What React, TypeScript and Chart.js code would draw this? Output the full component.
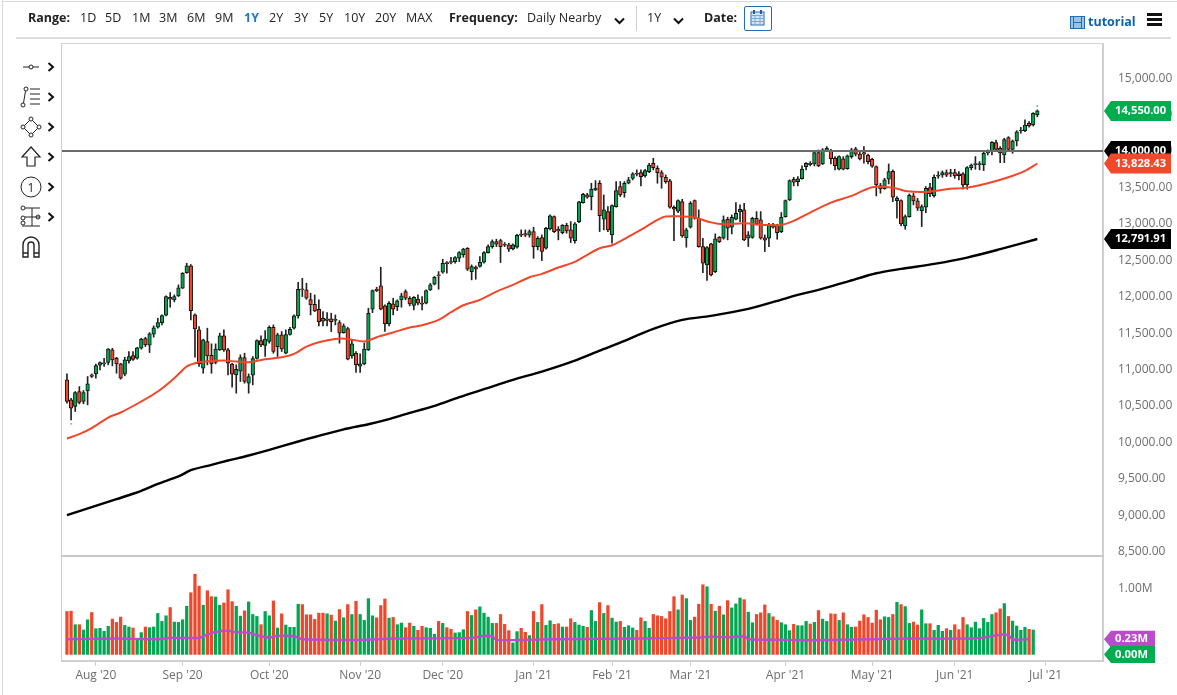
import { useEffect, useRef } from 'react';
import { Chart, registerables } from 'chart.js';

Chart.register(...registerables);

const opens = [
  10859, 10585, 10493, 10699, 10562, 10708, 10927, 10941, 11060, 11078,
  11097, 11270, 11156, 11078, 10937, 11120, 11193, 11156, 11293, 11426,
  11334, 11485, 11581, 11645, 11746, 11993, 11956, 12011, 12116, 12331,
  12423, 11750, 11545, 11019, 11385, 11197, 11097, 11270, 11462, 11270,
  11074, 10927, 10978, 11165, 10813, 10923, 11152, 11398, 11330, 11385,
  11581, 11316, 11476, 11225, 11481, 11568, 11737, 12107, 12093, 11961,
  11897, 11828, 11705, 11673, 11696, 11673, 11645, 11508, 11563, 11188,
  11225, 11046, 11078, 11270, 11828, 12102, 12148, 11874, 11627, 11902,
  11865, 11957, 12071, 11979, 11879, 11966, 11911, 11911, 12094, 12172,
  12300, 12336, 12469, 12482, 12482, 12528, 12578, 12665, 12345, 12405,
  12414, 12473, 12606, 12688, 12757, 12770, 12720, 12711, 12656, 12679,
  12857, 12866, 12844, 12894, 12688, 12812, 12665, 12930, 13100, 12926,
  12880, 12981, 12917, 12770, 13031, 13292, 13397, 13374, 13465, 13557,
  13063, 13168, 12848, 13237, 13511, 13429, 13557, 13625, 13694, 13703,
  13657, 13717, 13831, 13763, 13703, 13639, 13589, 13228, 13173, 13305,
  12807, 12953, 13319, 13077, 12688, 12437, 12725, 12345, 12816, 12802,
  13063, 12953, 13063, 13164, 13191, 12802, 12812, 13077, 13054, 12807,
  12802, 12985, 12981, 12894, 13100, 13328, 13612, 13580, 13621, 13785,
  13831, 13822, 13977, 13822, 14005, 14000, 13900, 13749, 13891, 13758,
  13923, 14028, 13959, 13977, 13945, 13886, 13785, 13525, 13484, 13612,
  13721, 13319, 13319, 12972, 13100, 13383, 13315, 13182, 13228, 13497,
  13383, 13653, 13671, 13703, 13685, 13703, 13685, 13685, 13534, 13772,
  13813, 13813, 13813, 13977, 13991, 14115, 14037, 13945, 14183, 14023,
  14137, 14275, 14279, 14380, 14357, 14499,
];
const highs = [
  10941, 10607, 10699, 10767, 10713, 10905, 10941, 11074, 11106, 11156,
  11289, 11293, 11170, 11087, 11170, 11248, 11248, 11307, 11430, 11444,
  11508, 11600, 11705, 11750, 12011, 12057, 12025, 12162, 12331, 12459,
  12441, 11764, 11590, 11417, 11568, 11353, 11353, 11499, 11545, 11293,
  11087, 11065, 11202, 11225, 10941, 11179, 11408, 11462, 11536, 11600,
  11613, 11499, 11522, 11545, 11581, 11750, 12198, 12253, 12185, 12048,
  12025, 11956, 11796, 11782, 11773, 11750, 11673, 11627, 11581, 11408,
  11248, 11216, 11362, 11842, 12093, 12130, 12404, 11888, 11933, 11979,
  11957, 12048, 12094, 12002, 12002, 12025, 12002, 12094, 12185, 12277,
  12345, 12514, 12482, 12542, 12551, 12620, 12665, 12674, 12437, 12423,
  12551, 12620, 12711, 12780, 12789, 12789, 12743, 12734, 12725, 12857,
  12917, 12917, 12917, 12953, 12825, 12848, 12953, 13122, 13109, 12962,
  12990, 13008, 13031, 13017, 13310, 13420, 13420, 13557, 13593, 13593,
  13397, 13237, 13260, 13580, 13580, 13580, 13639, 13703, 13740, 13740,
  13749, 13831, 13900, 13795, 13730, 13671, 13612, 13246, 13328, 13337,
  12940, 13305, 13328, 13191, 12802, 12688, 12734, 12862, 12825, 13109,
  13091, 13122, 13292, 13260, 13282, 12894, 13091, 13168, 13168, 12848,
  13008, 13008, 12994, 13155, 13328, 13603, 13639, 13648, 13795, 13840,
  13854, 13991, 14014, 14032, 14060, 14023, 13923, 13932, 13923, 13945,
  14037, 14051, 14000, 14060, 13959, 13900, 13795, 13557, 13625, 13822,
  13740, 13374, 13328, 13122, 13411, 13420, 13351, 13260, 13511, 13557,
  13671, 13717, 13726, 13740, 13749, 13749, 13717, 13703, 13785, 13822,
  13923, 13854, 13991, 14014, 14128, 14151, 14060, 14174, 14197, 14151,
  14279, 14325, 14426, 14403, 14526, 14563,
];
const lows = [
  10539, 10310, 10425, 10530, 10530, 10516, 10891, 10882, 10996, 11042,
  11065, 11051, 10950, 10868, 10914, 11087, 11124, 11142, 11280, 11316,
  11234, 11444, 11568, 11613, 11737, 11856, 11929, 12002, 12112, 12322,
  11682, 11170, 11042, 10950, 11065, 10950, 11078, 11261, 11248, 10927,
  10758, 10676, 10836, 10813, 10676, 10790, 11142, 11316, 11179, 11362,
  11225, 11179, 11248, 11216, 11472, 11554, 11705, 12002, 11965, 11750,
  11796, 11600, 11600, 11600, 11522, 11613, 11362, 11499, 11133, 11156,
  10960, 10960, 11065, 11261, 11782, 12070, 11819, 11522, 11600, 11751,
  11810, 11856, 11957, 11874, 11819, 11888, 11819, 11902, 12085, 12162,
  12103, 12322, 12322, 12450, 12459, 12482, 12542, 12359, 12231, 12240,
  12405, 12459, 12597, 12665, 12688, 12469, 12688, 12620, 12642, 12665,
  12825, 12825, 12816, 12528, 12642, 12496, 12652, 12917, 12880, 12780,
  12862, 12871, 12743, 12734, 13017, 13282, 13351, 13191, 13456, 12894,
  12917, 12894, 12734, 13228, 13374, 13365, 13548, 13603, 13657, 13520,
  13639, 13703, 13740, 13557, 13488, 13557, 13214, 12770, 13154, 12816,
  12679, 12940, 13063, 12679, 12331, 12222, 12286, 12331, 12743, 12789,
  12780, 12862, 13054, 13031, 12770, 12688, 12802, 12985, 12789, 12620,
  12688, 12940, 12789, 12880, 13091, 13319, 13520, 13520, 13612, 13740,
  13795, 13795, 13785, 13813, 13991, 13822, 13740, 13740, 13740, 13749,
  13900, 13932, 13877, 13831, 13822, 13776, 13383, 13420, 13475, 13548,
  13305, 13077, 12972, 12926, 13091, 13260, 13182, 12963, 13155, 13374,
  13365, 13625, 13639, 13648, 13648, 13625, 13603, 13475, 13475, 13740,
  13749, 13740, 13731, 13945, 13945, 14005, 13840, 13840, 14014, 13968,
  14069, 14243, 14265, 14325, 14343, 14471,
];
const closes = [
  10562, 10470, 10685, 10548, 10685, 10804, 10905, 11055, 11097, 11092,
  11280, 11133, 11078, 10882, 11133, 11179, 11138, 11298, 11417, 11339,
  11490, 11572, 11645, 11741, 12002, 11965, 12002, 12121, 12322, 12423,
  11810, 11558, 11078, 11408, 11188, 11078, 11280, 11462, 11270, 11087,
  10937, 11005, 11165, 10836, 10905, 11152, 11398, 11339, 11417, 11581,
  11248, 11476, 11284, 11481, 11554, 11737, 12103, 12093, 11979, 11888,
  11805, 11659, 11664, 11696, 11659, 11691, 11499, 11600, 11142, 11353,
  11065, 11078, 11280, 11773, 12084, 12084, 11828, 11627, 11910, 11829,
  11943, 12011, 11979, 11902, 11993, 11911, 11897, 12085, 12162, 12267,
  12286, 12459, 12455, 12469, 12537, 12606, 12652, 12377, 12414, 12377,
  12473, 12606, 12688, 12757, 12720, 12688, 12706, 12652, 12711, 12844,
  12844, 12844, 12894, 12688, 12802, 12620, 12940, 13109, 12894, 12903,
  12981, 12903, 12802, 12999, 13301, 13406, 13365, 13474, 13488, 13113,
  13191, 12917, 13250, 13456, 13397, 13557, 13603, 13685, 13680, 13648,
  13730, 13808, 13772, 13703, 13639, 13580, 13228, 13200, 13319, 12834,
  12917, 13282, 13077, 12688, 12459, 12674, 12300, 12793, 12757, 13054,
  12940, 13091, 13145, 13200, 12780, 12848, 13077, 12999, 12802, 12775,
  12985, 12953, 12880, 13091, 13319, 13593, 13571, 13616, 13753, 13831,
  13813, 13977, 13795, 14014, 14037, 13895, 13799, 13923, 13749, 13932,
  14014, 13955, 13891, 13955, 13854, 13790, 13534, 13479, 13603, 13717,
  13365, 13351, 12999, 13100, 13392, 13315, 13214, 13237, 13488, 13411,
  13639, 13667, 13703, 13667, 13703, 13657, 13662, 13534, 13772, 13808,
  13827, 13827, 13968, 13991, 14119, 14023, 13973, 14156, 14023, 14137,
  14261, 14288, 14357, 14343, 14517, 14550,
];

// volume in millions, the last session has no bar yet
const volumes = [
  0.65, 0.655, 0.45, 0.45, 0.37, 0.525, 0.635, 0.39, 0.395, 0.35,
  0.425, 0.535, 0.485, 0.565, 0.44, 0.415, 0.4, 0.24, 0.33, 0.415,
  0.405, 0.415, 0.62, 0.5, 0.585, 0.71, 0.49, 0.485, 0.525, 0.73,
  0.935, 1.215, 1.035, 0.745, 0.965, 0.875, 0.87, 0.745, 0.78, 0.98,
  0.8, 0.73, 0.58, 0.66, 0.795, 0.605, 0.575, 0.45, 0.65, 0.585,
  0.81, 0.4, 0.615, 0.445, 0.41, 0.41, 0.76, 0.755, 0.6, 0.6,
  0.53, 0.625, 0.625, 0.615, 0.595, 0.505, 0.68, 0.555, 0.755, 0.605,
  0.805, 0.605, 0.515, 0.845, 0.585, 0.555, 0.74, 0.84, 0.55, 0.56,
  0.45, 0.475, 0.405, 0.475, 0.425, 0.365, 0.425, 0.405, 0.395, 0.305,
  0.5, 0.47, 0.405, 0.38, 0.325, 0.33, 0.375, 0.65, 0.59, 0.675,
  0.72, 0.625, 0.565, 0.47, 0.47, 0.605, 0.455, 0.36, 0.175, 0.345,
  0.395, 0.335, 0.285, 0.65, 0.485, 0.755, 0.44, 0.51, 0.455, 0.465,
  0.415, 0.415, 0.54, 0.485, 0.445, 0.425, 0.41, 0.665, 0.5, 0.785,
  0.62, 0.74, 0.55, 0.49, 0.5, 0.41, 0.435, 0.4, 0.365, 0.555,
  0.5, 0.395, 0.605, 0.585, 0.575, 0.54, 0.65, 0.875, 0.675, 0.9,
  0.845, 0.515, 0.565, 0.76, 1.055, 1.025, 0.76, 0.655, 0.73, 0.6,
  0.815, 0.705, 0.765, 0.855, 0.83, 0.64, 0.48, 0.605, 0.63, 0.75,
  0.62, 0.57, 0.515, 0.48, 0.45, 0.36, 0.455, 0.435, 0.435, 0.5,
  0.46, 0.485, 0.665, 0.535, 0.5, 0.615, 0.61, 0.515, 0.63, 0.45,
  0.41, 0.415, 0.505, 0.6, 0.56, 0.475, 0.67, 0.525, 0.57, 0.56,
  0.605, 0.79, 0.755, 0.725, 0.47, 0.49, 0.445, 0.675, 0.465, 0.465,
  0.365, 0.44, 0.35, 0.39, 0.365, 0.45, 0.375, 0.56, 0.45, 0.405,
  0.49, 0.39, 0.545, 0.485, 0.605, 0.63, 0.69, 0.77, 0.575, 0.505,
  0.43, 0.365, 0.41, 0.38, 0.37,
];

// moving averages at these sessions
const ma50Sessions = [
  0, 3, 6, 10, 13, 18, 22, 26, 29, 31, 33, 38, 41, 44, 48, 52, 55, 58, 61, 65, 68, 72, 75,
  79, 83, 86, 90, 93, 96, 100, 104, 108, 112, 115, 119, 123, 126, 129, 132, 136, 140, 143, 145, 148, 152,
  156, 159, 164, 169, 173, 176, 180, 185, 190, 195, 200, 203, 208, 213, 218, 223, 228, 232, 235,
];
const ma50Values = [
  10054, 10114, 10196, 10342, 10411, 10562, 10699, 10882, 11042, 11087, 11106, 11124, 11110, 11101, 11142, 11170, 11215, 11316, 11376, 11421, 11421, 11385, 11444,
  11509, 11577, 11609, 11682, 11787, 11883, 11957, 12071, 12162, 12267, 12313, 12400, 12478, 12574, 12665, 12706, 12825, 12953, 13054, 13100, 13104, 13086,
  13020, 12994, 13008, 12985, 12985, 13040, 13155, 13292, 13383, 13502, 13497, 13452, 13438, 13475, 13497, 13557, 13639, 13726, 13828,
];
const ma200Sessions = [
  0, 6, 12, 18, 22, 27, 30, 35, 39, 44, 49, 56, 60, 67, 73, 78, 82, 89, 95, 101, 108, 115, 123, 129, 134,
  142, 149, 156, 165, 172, 177, 182, 189, 196, 202, 210, 218, 226, 235,
];
const ma200Values = [
  9002, 9112, 9222, 9336, 9432, 9533, 9619, 9693, 9752, 9821, 9898, 10013, 10075, 10180, 10250, 10320, 10388, 10502, 10621, 10731, 10859, 10973, 11124, 11261, 11371,
  11558, 11682, 11737, 11833, 11942, 12025, 12094, 12208, 12322, 12382, 12450, 12537, 12652, 12792,
];
const volMaSessions = [
  0, 12, 22, 25, 32, 34, 36, 39, 41, 44, 46, 49, 51, 55, 57, 71, 79, 98, 101, 103, 104, 111, 119,
  138, 153, 156, 160, 164, 165, 174, 181, 195, 205, 219, 223, 226, 228, 229, 233,
];
const volMaValues = [
  0.23, 0.24, 0.23, 0.25, 0.25, 0.3, 0.34, 0.36, 0.335, 0.33, 0.29, 0.255, 0.28, 0.275, 0.23, 0.22, 0.24, 0.25, 0.28, 0.275, 0.22, 0.22, 0.23,
  0.24, 0.255, 0.27, 0.26, 0.275, 0.23, 0.22, 0.215, 0.23, 0.24, 0.24, 0.265, 0.3, 0.29, 0.225, 0.23,
];

// the small high and low flags above and below the extreme sessions
const flagSessions = [1, 235];
const flagValues = [10255, 14617];

const levelLine = 14000;
const priceTicks = [8500, 9000, 9500, 10000, 10500, 11000, 11500, 12000, 12500, 13000, 13500, 14000, 14500, 15000];
const monthSessions = [7, 28, 49, 71, 91, 113, 132, 151, 174, 195, 215, 237];
const monthLabels = ["Aug '20", "Sep '20", "Oct '20", "Nov '20", "Dec '20", "Jan '21", "Feb '21", "Mar '21", "Apr '21", "May '21", "Jun '21", "Jul '21"];
const rangeOptions = ['1D', '5D', '1M', '3M', '6M', '9M', '1Y', '2Y', '3Y', '5Y', '10Y', '20Y', 'MAX'];
const rangeLefts = [80, 105, 132, 159, 187, 215, 244, 269, 294, 319, 344, 375, 406];

const priceBadgeValues = [14550, 14000, 13828.43, 12791.91];
const priceBadgeTexts = ['14,550.00', '14,000.00', '13,828.43', '12,791.91'];
const priceBadgeColors = ['#00AD4E', '#000000', '#F2492B', '#000000'];
const volumeBadgeValues = [0.23, 0];
const volumeBadgeTexts = ['0.23M', '0.00M'];
const volumeBadgeColors = ['#B94CC9', '#00AD4E'];

const GREEN = '#00A651';
const RED = '#F2462A';
const AXIS_GREY = '#CFCFCF';
const TEXT_GREY = '#6E6E6E';
const FONT = '"Open Sans", "Noto Sans", sans-serif';
const X_MIN = -1.2;
const X_MAX = 250.9;

const isUp = (i: number) => closes[i] >= opens[i];
const pairs = (xs: number[], ys: number[]) => xs.map((x, i) => ({ x, y: ys[i] }));

function badgePlugin(id: string, axis: string, values: number[], texts: string[], colors: string[], w: number, h: number) {
  return {
    id,
    afterDraw(chart: any) {
      const { ctx, chartArea } = chart;
      const scale = chart.scales[axis];
      const left = chartArea.right + 1;
      values.forEach((v, i) => {
        const y = scale.getPixelForValue(v);
        ctx.save();
        ctx.fillStyle = colors[i];
        ctx.beginPath();
        ctx.moveTo(left, y);
        ctx.lineTo(left + 7, y - h / 2);
        ctx.lineTo(left + w, y - h / 2);
        ctx.lineTo(left + w, y + h / 2);
        ctx.lineTo(left + 7, y + h / 2);
        ctx.closePath();
        ctx.fill();
        ctx.fillStyle = '#FFFFFF';
        ctx.font = `bold 11.2px ${FONT}`;
        ctx.textBaseline = 'middle';
        ctx.fillText(texts[i], left + 11, y);
        ctx.restore();
      });
    },
  };
}

function sharedX(display: boolean) {
  return {
    type: 'linear' as const,
    min: X_MIN,
    max: X_MAX,
    offset: false,
    display,
    afterBuildTicks: (axis: any) => {
      axis.ticks = monthSessions.map((value) => ({ value }));
    },
    afterFit: (axis: any) => {
      axis.height = display ? 34 : 0;
      axis.paddingTop = 0;
      axis.paddingBottom = 0;
    },
    grid: { offset: false, drawOnChartArea: false, color: AXIS_GREY, tickLength: 5, tickWidth: 1 },
    border: { color: AXIS_GREY, width: 2 },
    ticks: {
      autoSkip: false,
      maxRotation: 0,
      padding: 2,
      color: TEXT_GREY,
      font: { family: FONT, size: 12 },
      callback: (value: any) => monthLabels[monthSessions.indexOf(value)] ?? '',
    },
  };
}

function sideY(min: number, max: number, ticks: number[], label: (v: number) => string) {
  return {
    position: 'right' as const,
    min,
    max,
    afterBuildTicks: (axis: any) => {
      axis.ticks = ticks.map((value) => ({ value }));
    },
    afterFit: (axis: any) => {
      // tick padding would otherwise shrink the plot height
      axis.width = 74;
      axis.paddingTop = 0;
      axis.paddingBottom = 0;
    },
    grid: { display: false },
    border: { color: AXIS_GREY, width: 2 },
    ticks: {
      autoSkip: false,
      padding: 7,
      color: TEXT_GREY,
      font: { family: FONT, size: 12 },
      callback: (value: any) => label(value),
    },
  };
}

function Chevron({ x, y }: { x: number; y: number }) {
  return (
    <svg style={{ position: 'absolute', left: x, top: y }} width={8} height={10} viewBox="0 0 8 10">
      <path d="M1.5 1 L6 5 L1.5 9" fill="none" stroke="#111" strokeWidth={2} />
    </svg>
  );
}

function Down({ x }: { x: number }) {
  return (
    <svg style={{ position: 'absolute', left: x, top: 17 }} width={11} height={8} viewBox="0 0 11 8">
      <path d="M1 1.5 L5.5 6 L10 1.5" fill="none" stroke="#111" strokeWidth={2} />
    </svg>
  );
}

function Tool({ y, children }: { y: number; children: any }) {
  return (
    <svg style={{ position: 'absolute', left: 20, top: y - 12 }} width={22} height={24} viewBox="0 0 22 24" fill="none" stroke="#222" strokeWidth={1}>
      {children}
    </svg>
  );
}

export default function App() {
  const priceRef = useRef<HTMLCanvasElement>(null);
  const volumeRef = useRef<HTMLCanvasElement>(null);

  useEffect(() => {
    if (!priceRef.current || !volumeRef.current) return;
    const sessions = opens.map((_, i) => i);

    const priceChart = new Chart(priceRef.current, {
      type: 'bar',
      data: {
        datasets: [
          {
            label: 'Wicks',
            data: sessions.map((i) => ({ x: i, y: [lows[i], highs[i]] })) as any,
            backgroundColor: '#222222',
            borderWidth: 0,
            barThickness: 1,
            grouped: false,
            order: 5,
          },
          {
            label: 'Bodies',
            data: sessions.map((i) => ({ x: i, y: [opens[i], closes[i]] })) as any,
            backgroundColor: sessions.map((i) => (isUp(i) ? GREEN : RED)),
            borderColor: '#111111',
            borderWidth: 1,
            borderSkipped: false,
            barThickness: 3.6,
            grouped: false,
            order: 4,
          },
          {
            type: 'line',
            label: 'Flags',
            data: pairs(flagSessions, flagValues),
            showLine: false,
            pointRadius: 1,
            pointStyle: 'rect',
            pointBackgroundColor: [RED, GREEN],
            pointBorderWidth: 0,
            order: 3,
          },
          {
            type: 'line',
            label: '50 day',
            data: pairs(ma50Sessions, ma50Values),
            borderColor: RED,
            borderWidth: 2,
            pointRadius: 0,
            tension: 0.3,
            order: 2,
          },
          {
            type: 'line',
            label: '200 day',
            data: pairs(ma200Sessions, ma200Values),
            borderColor: '#000000',
            borderWidth: 2.4,
            pointRadius: 0,
            tension: 0.3,
            order: 2,
          },
          {
            type: 'line',
            label: 'Level',
            data: [
              { x: X_MIN, y: levelLine },
              { x: X_MAX, y: levelLine },
            ],
            borderColor: '#6B6B6B',
            borderWidth: 2,
            pointRadius: 0,
            order: 1,
          },
        ] as any,
      },
      options: {
        responsive: false,
        animation: false,
        events: [],
        layout: { padding: { left: 62, top: 44, right: 0, bottom: 0 } },
        plugins: { legend: { display: false }, tooltip: { enabled: false } },
        scales: {
          x: sharedX(false),
          y: sideY(8428, 15468, priceTicks, (v) => v.toLocaleString('en-US', { minimumFractionDigits: 2 })),
        } as any,
      },
      plugins: [badgePlugin('priceBadges', 'y', priceBadgeValues, priceBadgeTexts, priceBadgeColors, 67, 20)],
    });

    const volumeChart = new Chart(volumeRef.current, {
      type: 'bar',
      data: {
        datasets: [
          {
            label: 'Volume',
            data: volumes.map((v, i) => ({ x: i, y: v })),
            backgroundColor: volumes.map((_, i) => (isUp(i) ? GREEN : RED)),
            borderWidth: 0,
            barThickness: 2.6,
            grouped: false,
            order: 2,
          },
          {
            type: 'line',
            label: 'Volume average',
            data: pairs(volMaSessions, volMaValues),
            borderColor: '#B94CC9',
            borderWidth: 2.4,
            pointRadius: 0,
            tension: 0.2,
            order: 1,
          },
        ] as any,
      },
      options: {
        responsive: false,
        animation: false,
        events: [],
        layout: { padding: { left: 62, top: 0, right: 0, bottom: 0 } },
        plugins: { legend: { display: false }, tooltip: { enabled: false } },
        scales: {
          x: sharedX(true),
          y: sideY(-0.1, 1.476, [1], () => '1.00M'),
        } as any,
      },
      plugins: [badgePlugin('volumeBadges', 'y', volumeBadgeValues, volumeBadgeTexts, volumeBadgeColors, 51, 17)],
    });

    return () => {
      priceChart.destroy();
      volumeChart.destroy();
    };
  }, []);

  const label = { position: 'absolute', top: 9, fontSize: 12.5, lineHeight: '18px', color: '#222', whiteSpace: 'nowrap' } as const;

  return (
    <div style={{ position: 'fixed', left: 0, top: 0, width: 1177, height: 695, overflow: 'hidden', background: '#fff', fontFamily: FONT }}>
      {/* the volume canvas is opaque so it cuts off the lowest price label */}
      <canvas ref={priceRef} width={1177} height={561} style={{ position: 'absolute', left: 0, top: 0 }} />
      <canvas ref={volumeRef} width={1177} height={138} style={{ position: 'absolute', left: 0, top: 557, background: '#fff' }} />

      {/* page frame */}
      <div style={{ position: 'absolute', left: 2, top: 0, width: 1, height: 695, background: '#D8D8D8' }} />
      <div style={{ position: 'absolute', left: 2, top: 1, width: 1175, height: 1, background: '#D8D8D8' }} />
      <div style={{ position: 'absolute', left: 16, top: 37, width: 1155, height: 2, background: '#DDDDDD' }} />
      <div style={{ position: 'absolute', left: 61, top: 43, width: 1043, height: 1, background: '#D4D4D4' }} />
      <div style={{ position: 'absolute', left: 61, top: 43, width: 1, height: 619, background: '#CFCFCF' }} />
      <div style={{ position: 'absolute', left: 61, top: 555, width: 1043, height: 2, background: '#C8C8C8' }} />

      {/* toolbar */}
      <span style={{ ...label, left: 28, fontWeight: 700 }}>Range:</span>
      {rangeOptions.map((r, i) => (
        <span key={r} style={{ ...label, left: rangeLefts[i], color: r === '1Y' ? '#1F78C1' : '#222', fontWeight: r === '1Y' ? 700 : 400 }}>
          {r}
        </span>
      ))}
      <span style={{ ...label, left: 449, fontWeight: 700 }}>Frequency:</span>
      <span style={{ ...label, left: 527 }}>Daily Nearby</span>
      <Down x={614} />
      <div style={{ position: 'absolute', left: 636, top: 6, width: 1, height: 25, background: '#CCCCCC' }} />
      <span style={{ ...label, left: 647 }}>1Y</span>
      <Down x={673} />
      <span style={{ ...label, left: 704, fontWeight: 700 }}>Date:</span>
      <div style={{ position: 'absolute', left: 744, top: 6, width: 26, height: 23, border: '1px solid #1F6FB5', borderRadius: 2 }} />
      <svg style={{ position: 'absolute', left: 750, top: 9 }} width={15} height={17} viewBox="0 0 15 17" fill="none" stroke="#1F6FB5">
        <rect x={1} y={3} width={13} height={13} fill="#D7E6F3" />
        <path d="M1 6.5 H14 M1 9.5 H14 M1 12.5 H14 M5 6 V16 M10 6 V16" stroke="#7FA9CF" />
        <path d="M4 1 V5 M11 1 V5" strokeWidth={2} stroke="#235E96" />
      </svg>
      <svg style={{ position: 'absolute', left: 1070, top: 16 }} width={15} height={13} viewBox="0 0 15 13" fill="#9CC3E4" stroke="#1F6FB5">
        <rect x={0.5} y={0.5} width={14} height={12} />
        <path d="M3.5 1 V12 M11.5 1 V12 M4 6.5 H11" />
      </svg>
      <span style={{ position: 'absolute', left: 1088, top: 13, fontSize: 12.5, lineHeight: '18px', fontWeight: 700, color: '#0F62A8' }}>tutorial</span>
      <div style={{ position: 'absolute', left: 1147, top: 13, width: 15, height: 2.5, background: '#111' }} />
      <div style={{ position: 'absolute', left: 1147, top: 18, width: 15, height: 2.5, background: '#111' }} />
      <div style={{ position: 'absolute', left: 1147, top: 23, width: 15, height: 2.5, background: '#111' }} />

      {/* drawing tools */}
      <Tool y={67}>
        <path d="M3 12 H9 M13 12 H19" />
        <circle cx={11} cy={12} r={2} />
      </Tool>
      <Tool y={97}>
        <circle cx={3} cy={20} r={2} />
        <circle cx={6} cy={4} r={2} />
        <path d="M3.5 18 L5.5 6 M10 4 H20 M10 9 H20 M10 14 H20 M10 19 H20" />
      </Tool>
      <Tool y={127}>
        <path d="M11 4 L19 12 L11 20 L3 12 Z" />
        <circle cx={11} cy={4} r={2} fill="#fff" />
        <circle cx={19} cy={12} r={2} fill="#fff" />
        <circle cx={11} cy={20} r={2} fill="#fff" />
        <circle cx={3} cy={12} r={2} fill="#fff" />
      </Tool>
      <Tool y={157}>
        <path d="M11 2 L20 12 H15 V21 H7 V12 H2 Z" strokeWidth={1.2} />
      </Tool>
      <Tool y={187}>
        <circle cx={11} cy={12} r={10} />
        <text x={11} y={16.5} fontSize={12} textAnchor="middle" fill="#222" stroke="none" fontFamily={FONT}>
          1
        </text>
      </Tool>
      <Tool y={217}>
        <path d="M5 3 H20 M5 12 H20 M2 21 H20 M12 3 V21" />
        <circle cx={3} cy={3} r={2} />
        <circle cx={3} cy={13} r={2} />
        <circle cx={3} cy={18} r={2} />
        <circle cx={18} cy={12} r={2} />
      </Tool>
      <Tool y={247}>
        <path d="M3 22 V10 A8 8 0 0 1 19 10 V22 H14 V10 A3 3 0 0 0 8 10 V22 Z M3 18 H8 M14 18 H19" strokeWidth={1.4} />
      </Tool>
      {[62, 92, 122, 152, 182, 212].map((y) => (
        <Chevron key={y} x={47} y={y} />
      ))}
    </div>
  );
}
